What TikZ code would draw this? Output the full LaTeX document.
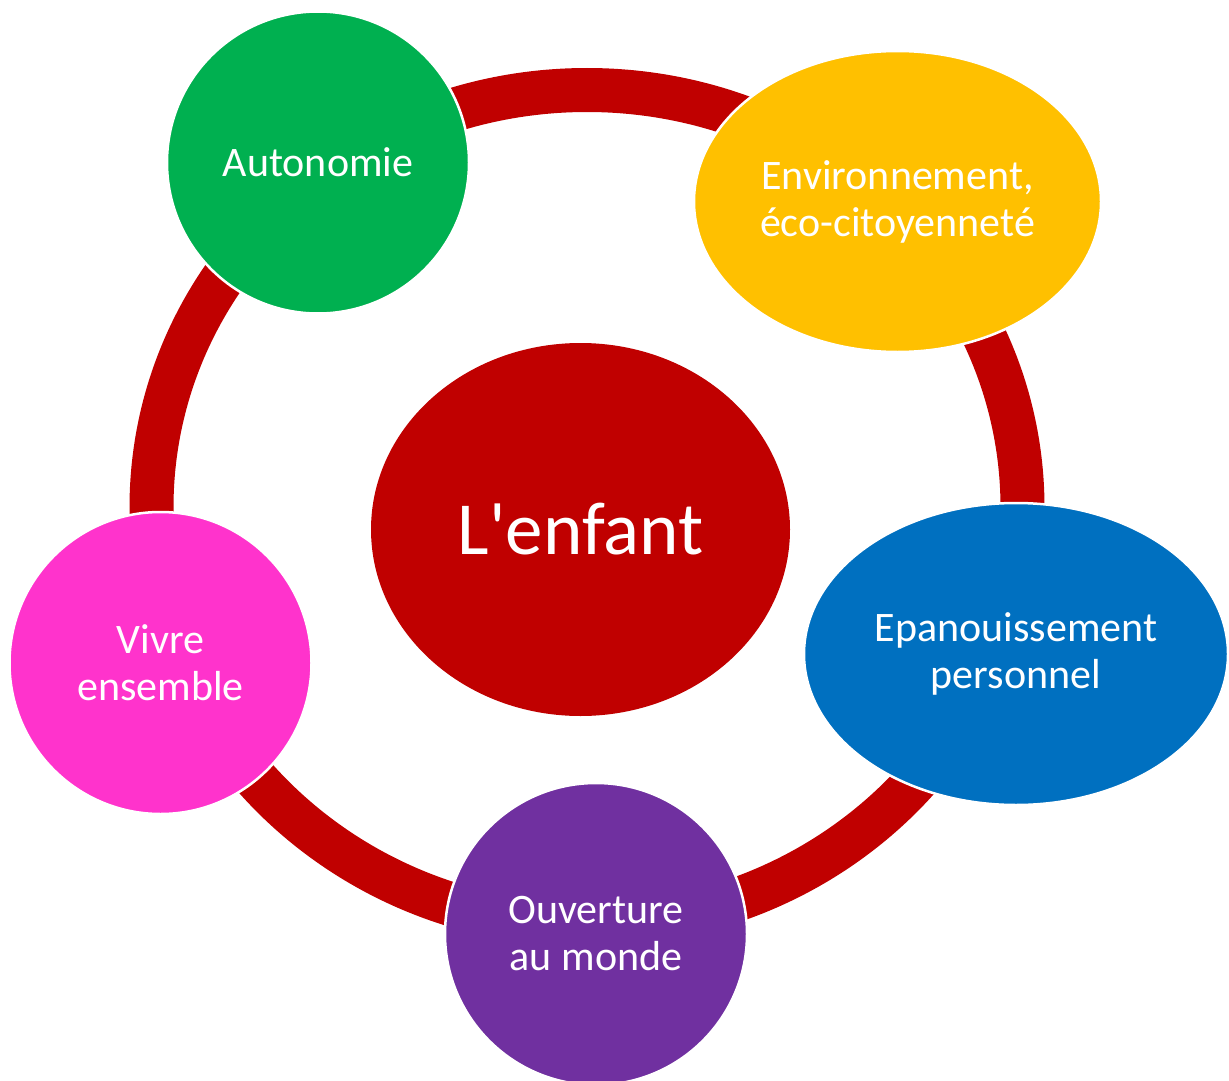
\documentclass[tikz,border=0pt]{standalone}
\usepackage{fontspec}
\setmainfont{Carlito}
\usetikzlibrary{shapes.geometric}
\definecolor{ringred}{HTML}{C00000}
\definecolor{cgreen}{HTML}{00B050}
\definecolor{cyellow}{HTML}{FFC000}
\definecolor{cblue}{HTML}{0070C0}
\definecolor{cpurple}{HTML}{7030A0}
\definecolor{cpink}{HTML}{FF33CC}
\tikzset{
  topic/.style={ellipse, draw=white, line width=2.5pt, inner sep=0pt, text=white,
    align=center, font=\fontsize{42}{47}\selectfont},
  centre/.style={ellipse, fill=ringred, draw=none, inner sep=0pt, text=white,
    font=\fontsize{75}{80}\selectfont},
  ring/.style={draw=ringred, line width=44pt}
}
\begin{document}
\begin{tikzpicture}[x=1pt,y=-1pt]
\useasboundingbox[fill=white] (0,0) rectangle (1229,1081);
\coordinate (rc) at (587,507.5);
\draw[ring] (rc) ellipse [x radius=435.5, y radius=417.5];
\node[centre, minimum width=419pt, minimum height=373pt] (enfant) at (580.5,529.5) {L\textquotesingle enfant};
\node[topic, fill=cgreen, minimum width=302pt, minimum height=302pt] (auto) at (318,162.5) {Autonomie};
\node[topic, fill=cyellow, minimum width=407pt, minimum height=301pt] (env) at (897.5,201.5) {Environnement,\\éco-citoyenneté};
\node[topic, fill=cblue, minimum width=424pt, minimum height=302pt] (epa) at (1016,654) {Epanouissement\\personnel};
\node[topic, fill=cpurple, minimum width=302pt, minimum height=302pt] (ouv) at (596,934) {Ouverture\\au monde};
\node[topic, fill=cpink, minimum width=302pt, minimum height=302pt] (viv) at (160.5,663) {Vivre\\ensemble};
\end{tikzpicture}
\end{document}
